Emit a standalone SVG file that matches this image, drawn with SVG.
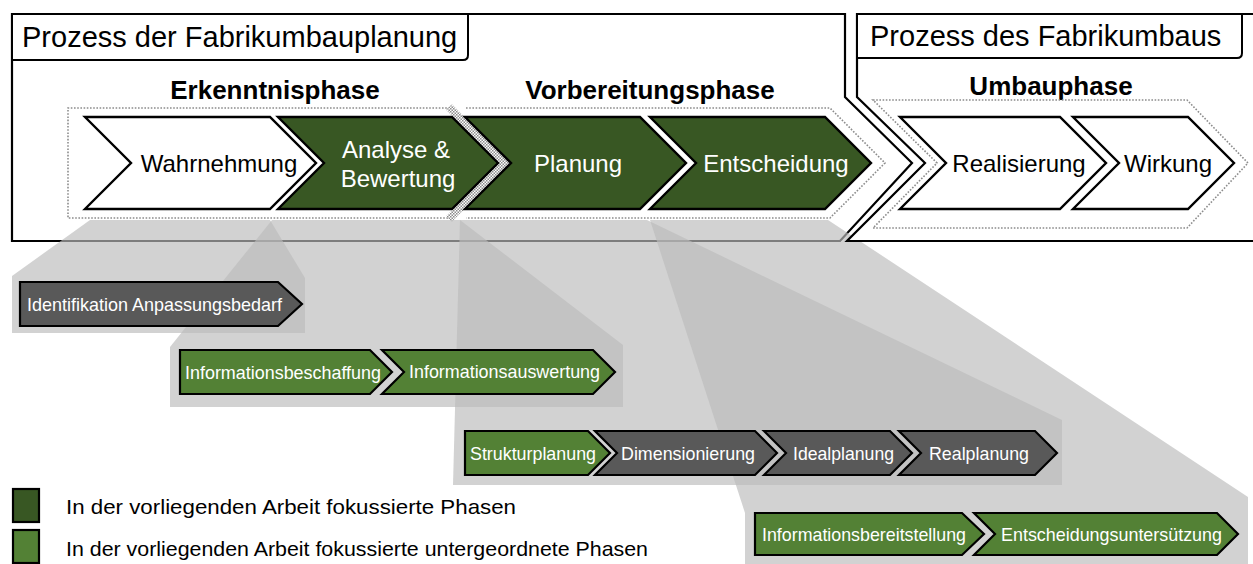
<svg xmlns="http://www.w3.org/2000/svg" width="1253" height="564" viewBox="0 0 1253 564">
  <defs>
    <pattern id="checker" width="3" height="3" patternUnits="userSpaceOnUse">
      <rect width="3" height="3" fill="#ffffff"/>
      <rect width="1.5" height="1.5" fill="#8c8c8c"/>
      <rect x="1.5" y="1.5" width="1.5" height="1.5" fill="#8c8c8c"/>
    </pattern>
    <style>
      text { font-family: "Liberation Sans", Arial, sans-serif; }
      .frame { fill: #ffffff; stroke: #000000; stroke-width: 2.2; stroke-linejoin: miter; }
      .tab { fill: #ffffff; stroke: #000000; stroke-width: 2; }
      .title { font-size: 29px; fill: #000000; }
      .phase { font-size: 26px; font-weight: bold; fill: #000000; text-anchor: middle; }
      .dots { fill: none; stroke: #8c8c8c; stroke-width: 1.6; stroke-dasharray: 1.6 1.6; }
      .big { stroke: #000000; stroke-width: 2.4; stroke-linejoin: miter; }
      .white { fill: #ffffff; }
      .dark { fill: #385723; }
      .light { fill: #538135; }
      .grey { fill: #595959; }
      .bigtxt { font-size: 24px; text-anchor: middle; }
      .small { stroke: #000000; stroke-width: 2.2; stroke-linejoin: miter; }
      .smalltxt { font-size: 19px; fill: #ffffff; }
      .funnel { fill: #bbbbbb; fill-opacity: 0.667; stroke: none; }
      .legend { font-size: 21px; fill: #000000; }
    </style>
  </defs>

  <rect width="1253" height="564" fill="#ffffff"/>

  <!-- planning process frame -->
  <g id="frame-planung">
    <path class="frame" d="M12,14 H845 V97 L912,163 L840,241 H12 Z"/>
    <path class="tab" d="M12,14 H468 V55 Q468,60 463,60 H12 Z"/>
    <text class="title" x="22" y="47">Prozess der Fabrikumbauplanung</text>
  </g>

  <!-- phase labels and dotted phase outlines -->
  <g id="phase-erkenntnis">
    <text class="phase" x="275" y="99">Erkenntnisphase</text>
    <path class="dots" d="M450,108 H68 V218 H450"/>
  </g>
  <g id="phase-vorbereitung">
    <text class="phase" x="650" y="99">Vorbereitungsphase</text>
    <path class="dots" d="M466,108 H830 L885,163 L830,218 H466"/>
  </g>
  <path id="phase-border" d="M449,107 L504,163 L449,219" fill="none" stroke="url(#checker)" stroke-width="8"/>

  <!-- main phases -->
  <g id="node-wahrnehmung">
    <polygon class="big white" points="85,117 270,117 316,163 270,209 85,209 131,163"/>
    <text class="bigtxt" x="219" y="172" fill="#000000">Wahrnehmung</text>
  </g>
  <g id="node-analyse">
    <polygon class="big dark" points="278,117 452,117 498,163 452,209 278,209 324,163"/>
    <text class="bigtxt" x="396" y="158" fill="#ffffff">Analyse &amp;</text>
    <text class="bigtxt" x="398" y="187" fill="#ffffff">Bewertung</text>
  </g>
  <g id="node-planung">
    <polygon class="big dark" points="465,117 640,117 686,163 640,209 465,209 511,163"/>
    <text class="bigtxt" x="578" y="172" fill="#ffffff">Planung</text>
  </g>
  <g id="node-entscheidung">
    <polygon class="big dark" points="650,117 825,117 871,163 825,209 650,209 696,163"/>
    <text class="bigtxt" x="776" y="172" fill="#ffffff">Entscheidung</text>
  </g>

  <!-- zoom funnels from main phases to sub-phases -->
  <g id="connectors">
    <polygon class="funnel" points="90,220 270,220 305,278 305,333 12,333 12,276"/>
    <polygon class="funnel" points="272,220 460,220 623,345 623,407 170,407 170,347"/>
    <polygon class="funnel" points="460,220 647,220 1062,420 1062,485 453,485"/>
    <polygon class="funnel" points="650,220 828,220 1248,497 1248,564 745,564 745,513"/>
  </g>

  <!-- construction process frame -->
  <g id="frame-umbau">
    <path class="frame" d="M1260,14 H857 V97 L925,163 L847,241 H1260 Z"/>
    <path class="tab" d="M857,14 H1242 V53 Q1242,58 1237,58 H857 Z"/>
    <text class="title" x="870" y="46">Prozess des Fabrikumbaus</text>
  </g>
  <g id="phase-umbau">
    <text class="phase" x="1051" y="95">Umbauphase</text>
    <path class="dots" d="M873,100 H1187 L1248,163 L1187,228 H873 L937,163 Z"/>
  </g>
  <g id="node-realisierung">
    <polygon class="big white" points="900,117 1060,117 1106,163 1060,209 900,209 946,163"/>
    <text class="bigtxt" x="1019" y="172" fill="#000000">Realisierung</text>
  </g>
  <g id="node-wirkung">
    <polygon class="big white" points="1073,117 1188,117 1234,163 1188,209 1073,209 1119,163"/>
    <text class="bigtxt" x="1168" y="172" fill="#000000">Wirkung</text>
  </g>

  <!-- sub-phases -->
  <g id="node-identifikation">
    <polygon class="small grey" points="20,282 278,282 302,304 278,326 20,326"/>
    <text class="smalltxt" x="27" y="311" textLength="255" lengthAdjust="spacingAndGlyphs">Identifikation Anpassungsbedarf</text>
  </g>
  <g id="node-informationsbeschaffung">
    <polygon class="small light" points="180,350 370,350 392,372 370,394 180,394"/>
    <text class="smalltxt" x="185" y="379" textLength="196" lengthAdjust="spacingAndGlyphs">Informationsbeschaffung</text>
  </g>
  <g id="node-informationsauswertung">
    <polygon class="small light" points="382,350 593,350 615,372 593,394 382,394 404,372"/>
    <text class="smalltxt" x="409" y="378" textLength="191" lengthAdjust="spacingAndGlyphs">Informationsauswertung</text>
  </g>
  <g id="node-strukturplanung">
    <polygon class="small light" points="465,431 588,431 610,453 588,475 465,475"/>
    <text class="smalltxt" x="470" y="460" textLength="126" lengthAdjust="spacingAndGlyphs">Strukturplanung</text>
  </g>
  <g id="node-dimensionierung">
    <polygon class="small grey" points="595,431 755,431 777,453 755,475 595,475 617,453"/>
    <text class="smalltxt" x="621" y="460" textLength="134" lengthAdjust="spacingAndGlyphs">Dimensionierung</text>
  </g>
  <g id="node-idealplanung">
    <polygon class="small grey" points="764,431 890,431 912,453 890,475 764,475 786,453"/>
    <text class="smalltxt" x="793" y="460" textLength="101" lengthAdjust="spacingAndGlyphs">Idealplanung</text>
  </g>
  <g id="node-realplanung">
    <polygon class="small grey" points="899,431 1035,431 1057,453 1035,475 899,475 921,453"/>
    <text class="smalltxt" x="929" y="460" textLength="100" lengthAdjust="spacingAndGlyphs">Realplanung</text>
  </g>
  <g id="node-informationsbereitstellung">
    <polygon class="small light" points="755,513 962,513 984,534 962,555 755,555"/>
    <text class="smalltxt" x="762" y="541" textLength="204" lengthAdjust="spacingAndGlyphs">Informationsbereitstellung</text>
  </g>
  <g id="node-entscheidungsunterstuetzung">
    <polygon class="small light" points="974,513 1217,513 1238,534 1217,555 974,555 995,534"/>
    <text class="smalltxt" x="1001" y="541" textLength="221" lengthAdjust="spacingAndGlyphs">Entscheidungsuntersützung</text>
  </g>

  <!-- legend -->
  <g id="legend">
    <rect x="13" y="489" width="26" height="33" fill="#385723" stroke="#000000" stroke-width="2.2"/>
    <text class="legend" x="66" y="514" textLength="450" lengthAdjust="spacingAndGlyphs">In der vorliegenden Arbeit fokussierte Phasen</text>
    <rect x="13" y="530" width="26" height="33" fill="#538135" stroke="#000000" stroke-width="2.2"/>
    <text class="legend" x="66" y="556" textLength="582" lengthAdjust="spacingAndGlyphs">In der vorliegenden Arbeit fokussierte untergeordnete Phasen</text>
  </g>
</svg>
